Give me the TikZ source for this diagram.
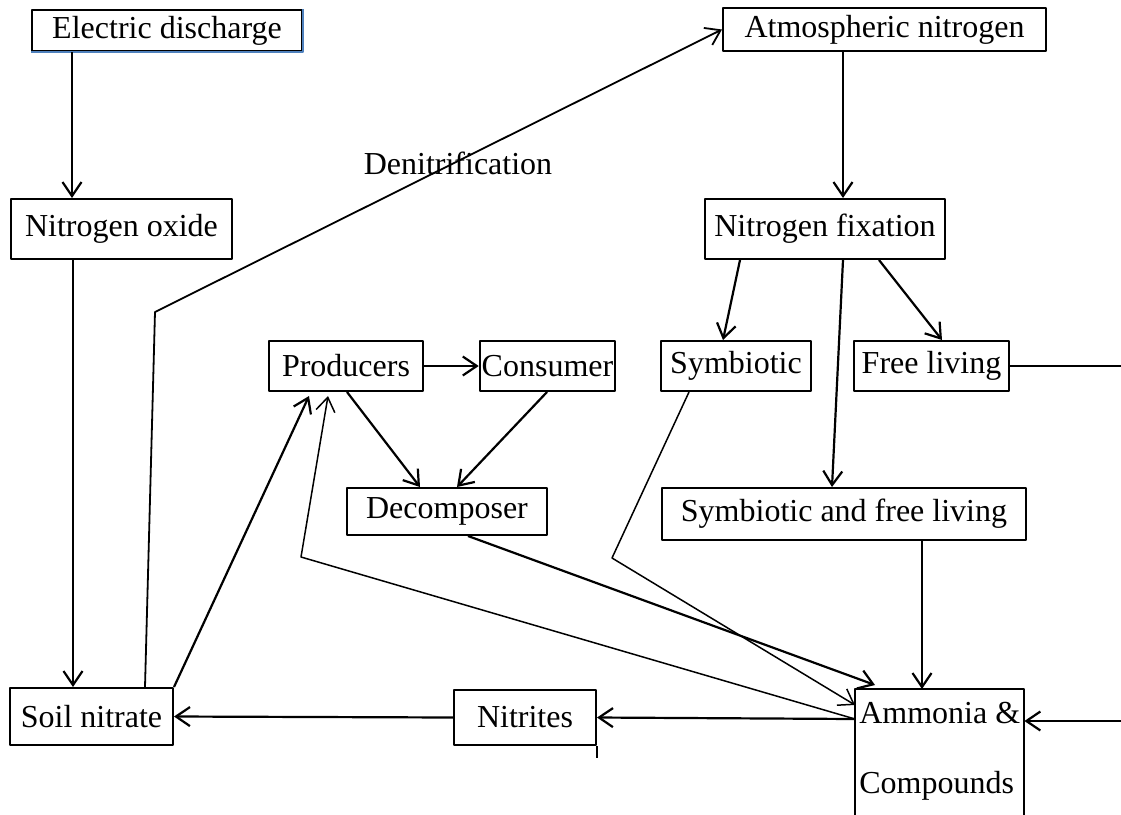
\documentclass[tikz,border=0pt]{standalone}
\usepackage{fontspec}
\setmainfont{Liberation Serif}
\usetikzlibrary{arrows.meta}
\definecolor{wordblue}{RGB}{79,129,189}
\begin{document}
\begin{tikzpicture}[x=1pt, y=-1pt, line join=round, font=\fontsize{32}{38}\selectfont,
	box/.style={draw, line width=2pt, inner sep=2pt},
	arr/.style={line width=2.2pt, -{Straight Barb[length=14pt,width=19pt]}},
	thinarr/.style={line width=1.5pt, -{Straight Barb[length=14pt,width=19pt]}}]
	\useasboundingbox (0,0) rectangle (1121,814);
	\clip (0,0) rectangle (1121,814);
	\node[box, minimum width=270pt, minimum height=41pt] (elec) at (167,30.5) {Electric discharge};
	\node[box, minimum width=323pt, minimum height=43pt] (atmo) at (884.5,29.5) {Atmospheric nitrogen};
	\node[box, minimum width=221pt, minimum height=60pt] (nox) at (121.5,229) {Nitrogen oxide};
	\node[box, minimum width=240pt, minimum height=60pt] (nfix) at (825,229) {Nitrogen fixation};
	\node[box, minimum width=154pt, minimum height=50pt] (prod) at (346,366) {Producers};
	\node[box, minimum width=131pt, minimum height=50pt] (cons) at (547.5,366) {Consumer};
	\node[box, minimum width=150pt, minimum height=50pt] (symb) at (736,366) {Symbiotic};
	\node[box, minimum width=155pt, minimum height=50pt] (free) at (931.5,366) {Free living};
	\node[box, minimum width=200pt, minimum height=47pt] (decomp) at (447,511.5) {Decomposer};
	\node[box, minimum width=364pt, minimum height=52pt] (sfl) at (844,514) {Symbiotic and free living};
	\node[box, minimum width=163pt, minimum height=57pt] (soil) at (91.5,716.5) {Soil nitrate};
	\node[box, minimum width=142pt, minimum height=55pt] (nitr) at (525,717.5) {Nitrites};
	\node[anchor=north west, align=left, minimum width=169pt, inner ysep=13pt] (amm) at (855,689) {Ammonia \&\\[32pt]Compounds};
	\node (denit) at (458,163) {Denitrification};
	\coordinate (bendS) at (612,558);
	\coordinate (bendR) at (301,557);
	\coordinate (bendD) at (155,312);
	\coordinate (ammL) at ([yshift=-30pt]amm.north west);
	\coordinate (freeR) at (1125,366);
	\coordinate (rightIn) at (1125,721);
	\draw[line width=2pt] ([yshift=-160pt]amm.north west) -- (amm.north west) -- (amm.north east) -- ([yshift=-160pt]amm.north east);
	\draw[line width=1.6pt, wordblue] (elec.north east) -- (elec.south east) -- (elec.south west);
	\draw[line width=2pt] (nitr.south east) -- ++(0,12);
	\draw[arr] (72,0 |- elec.south) -- (72,0 |- nox.north);
	\draw[arr] (73,0 |- nox.south) -- (73,0 |- soil.north);
	\draw[arr] (843,0 |- atmo.south) -- (843,0 |- nfix.north);
	\draw[arr] (740,0 |- nfix.south) -- (723,0 |- symb.north);
	\draw[arr] (843,0 |- nfix.south) -- (832,0 |- sfl.north);
	\draw[arr] (879,0 |- nfix.south) -- (942,0 |- free.north);
	\draw[arr] (prod.east) -- (cons.west);
	\draw[arr] (347,0 |- prod.south) -- (420,0 |- decomp.north);
	\draw[arr] (547,0 |- cons.south) -- (457,0 |- decomp.north);
	\draw[arr] (922,0 |- sfl.south) -- (922,0 |- amm.north);
	\draw[arr] (468,0 |- decomp.south) -- ([yshift=4pt]875,0 |- amm.north);
	\draw[thinarr] (689,0 |- symb.south) -- (bendS) -- ([yshift=-16pt]amm.north west);
	\draw[thinarr] (ammL) -- (bendR) -- ([yshift=-4pt]328,0 |- prod.south);
	\draw[arr] (soil.north east) -- ([yshift=-4pt]309,0 |- prod.south);
	\draw[line width=1.8pt, -{Straight Barb[length=14pt,width=19pt]}] (145,0 |- soil.north) -- (bendD) -- (atmo.west);
	\draw[arr] (ammL) -- (nitr.east);
	\draw[arr] (nitr.west) -- (soil.east);
	\draw[line width=2pt] (free.east) -- (freeR);
	\draw[arr] (rightIn) -- ([yshift=-32pt]amm.north east);
\end{tikzpicture}
\end{document}
